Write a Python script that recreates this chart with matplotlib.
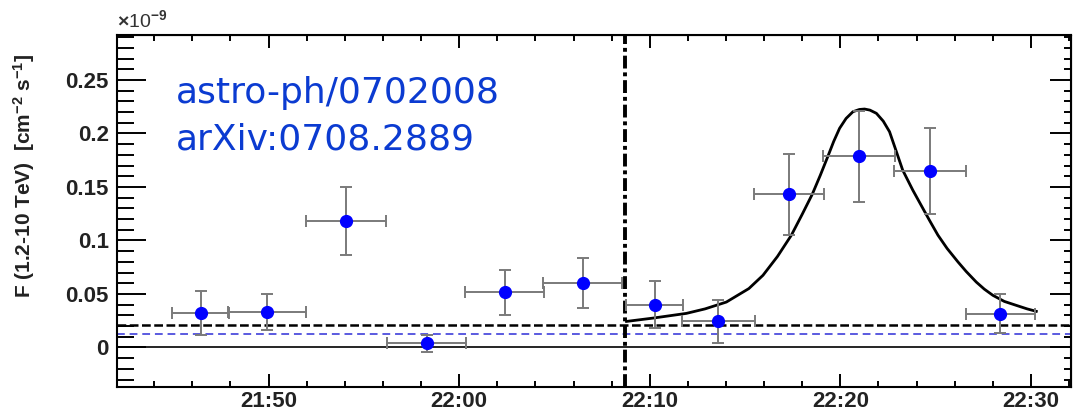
import matplotlib
matplotlib.use("Agg")
import matplotlib.pyplot as plt
from matplotlib.ticker import MultipleLocator, FuncFormatter, NullFormatter

plt.rcParams['font.family'] = ['Liberation Sans', 'DejaVu Sans']
plt.rcParams['mathtext.fontset'] = 'custom'
plt.rcParams['mathtext.rm'] = 'Liberation Sans:bold'
plt.rcParams['mathtext.it'] = 'Liberation Sans:bold'
plt.rcParams['mathtext.bf'] = 'Liberation Sans:bold'

# light curve, F(1.2-10 TeV) in units of 1e-9 cm^-2 s^-1
# time = minutes after 21:00 UTC
t_bin = [46.45, 49.9, 54.07, 58.29, 62.4, 66.49, 70.25, 73.6, 77.3, 81.0, 84.7, 88.4]
t_half = [1.5, 2.05, 2.1, 2.05, 2.07, 2.07, 1.47, 1.9, 1.83, 1.89, 1.9, 1.82]
flux = [0.0325, 0.0331, 0.118, 0.0037, 0.0515, 0.0602, 0.040, 0.0243, 0.143, 0.1786, 0.165, 0.0316]
flux_err = [0.0205, 0.0172, 0.0315, 0.008, 0.021, 0.0236, 0.0218, 0.0198, 0.038, 0.0426, 0.040, 0.018]

# fitted flare profile
fit_t = [68.78, 70.17, 71.92, 72.9, 74.02, 75.2, 75.94, 76.7, 77.43, 78.0, 78.53, 78.95,
         79.35, 79.65, 79.96, 80.3, 80.66, 81.0, 81.27, 81.55, 81.89, 82.25, 82.58, 82.9,
         83.27, 83.8, 84.33, 84.7, 85.12, 85.6, 86.17, 86.6, 87.13, 87.55, 88.0, 88.6,
         89.23, 89.8, 90.28]
fit_f = [0.0243, 0.0274, 0.0318, 0.0360, 0.0424, 0.0550, 0.0674, 0.0850, 0.1049, 0.1245,
         0.1433, 0.1610, 0.1788, 0.1925, 0.2048, 0.2140, 0.2203, 0.2224, 0.2228, 0.2218,
         0.2188, 0.2115, 0.2016, 0.1850, 0.1657, 0.1470, 0.1299, 0.1180, 0.1049, 0.0925,
         0.0799, 0.0710, 0.0611, 0.0545, 0.0487, 0.0430, 0.0393, 0.0360, 0.0337]

flare_start = 68.7     # 22:08.7
level_black = 0.021
level_blue = 0.013
refs = ["astro-ph/0702008", "arXiv:0708.2889"]


def clock(v, pos=None):
    m = int(round(v))
    return f"{21 + m // 60}:{m % 60:02d}"


fig = plt.figure(figsize=(10.75, 4.11), dpi=100)
ax = fig.add_axes([117 / 1075, 24 / 411, (1071 - 117) / 1075, (387 - 35) / 411])

ax.axhline(0, color='black', lw=1.2, zorder=1)
ax.axhline(level_black, color='black', lw=1.8, ls=(0, (3.5, 1.4)), zorder=1)
ax.axhline(level_blue, color='#5a5ae0', lw=1.4, ls=(0, (4, 2.5)), zorder=1)
ax.axvline(flare_start, color='black', lw=2.8, ls=(0, (3.3, 1.0, 1.0, 1.0)), zorder=2)

ax.plot(fit_t, fit_f, color='black', lw=2.0, zorder=3, solid_joinstyle='round')

ax.errorbar(t_bin, flux, xerr=t_half, yerr=flux_err, fmt='o', color='#0000ff', ms=8.5,
            ecolor='#7a7a7a', elinewidth=1.4, capsize=4, capthick=1.4, zorder=4)

ax.set_xlim(42.05, 92.1)
ax.set_ylim(-0.037, 0.292)

ax.xaxis.set_major_locator(MultipleLocator(10))
ax.xaxis.set_minor_locator(MultipleLocator(2))
ax.xaxis.set_major_formatter(FuncFormatter(clock))
ax.yaxis.set_major_locator(MultipleLocator(0.05))
ax.yaxis.set_minor_locator(MultipleLocator(0.01))
ax.yaxis.set_major_formatter(FuncFormatter(lambda v, p: "0" if abs(v) < 1e-9 else f"{v:g}"))

ax.tick_params(axis='y', which='major', direction='in', length=21, width=1.4, pad=6,
               labelsize=16)
ax.tick_params(axis='y', which='minor', direction='in', length=12, width=1.4)
ax.tick_params(axis='x', which='major', direction='in', length=9.5, width=1.4, pad=3,
               labelsize=16)
ax.tick_params(axis='x', which='minor', direction='in', length=4.5, width=1.4)
for lab in ax.get_xticklabels() + ax.get_yticklabels():
    lab.set_fontweight('bold')
    lab.set_color('#222222')

for sp in ax.spines.values():
    sp.set_linewidth(1.5)

top = ax.secondary_xaxis('top')
top.xaxis.set_major_locator(MultipleLocator(10))
top.xaxis.set_minor_locator(MultipleLocator(2))
top.xaxis.set_major_formatter(NullFormatter())
top.tick_params(which='major', direction='in', length=9, width=1.4)
top.tick_params(which='minor', direction='in', length=4.5, width=1.4)

right = ax.secondary_yaxis('right')
right.yaxis.set_major_locator(MultipleLocator(0.05))
right.yaxis.set_minor_locator(MultipleLocator(0.01))
right.yaxis.set_major_formatter(NullFormatter())
right.tick_params(which='major', direction='in', length=15, width=1.4)
right.tick_params(which='minor', direction='in', length=5, width=1.4)

ax.set_ylabel(r"F (1.2-10 TeV)  [cm$^{-2}$ s$^{-1}$]", fontsize=15, fontweight='bold',
              color='#222222')
ax.yaxis.set_label_coords(-0.084, 0.6)

ax.text(0.0, 1.012, r"$\times$10$^{-9}$", transform=ax.transAxes, ha='left', va='bottom',
        fontsize=14, color='#333333', fontweight='normal')

ax.text(176 / 1075, 1 - 103 / 411, refs[0], transform=fig.transFigure, family='DejaVu Sans',
        fontsize=26, color='#0b3bd1', ha='left', va='baseline')
ax.text(176 / 1075, 1 - 149 / 411, refs[1], transform=fig.transFigure, family='DejaVu Sans',
        fontsize=26, color='#0b3bd1', ha='left', va='baseline')

fig.savefig("out.png", dpi=100)
